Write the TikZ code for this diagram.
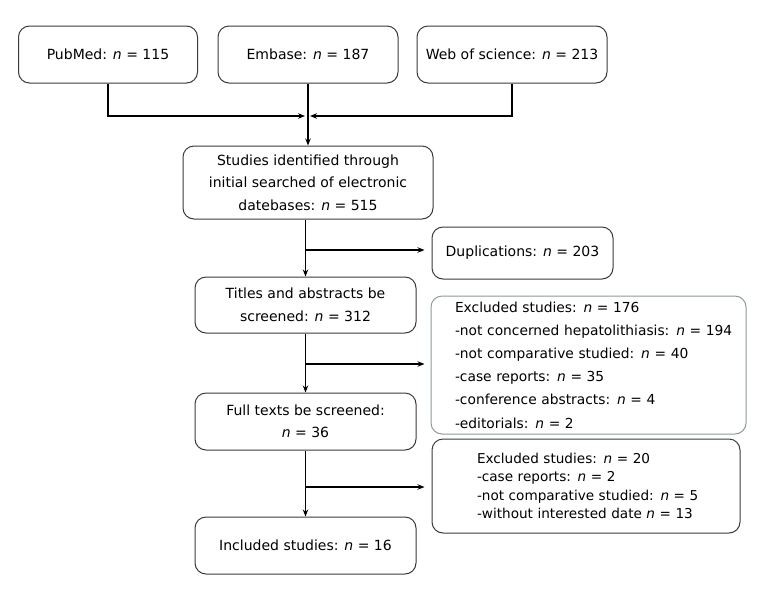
\documentclass[tikz,border=0pt]{standalone}
\usepackage{fontspec}
\setmainfont{DejaVu Sans}
\usetikzlibrary{arrows.meta}
\definecolor{bord}{HTML}{3A3A3A}
\definecolor{bordgray}{HTML}{8C9A9A}
\begin{document}
\begin{tikzpicture}[x=1pt,y=-1pt,
  box/.style={draw=bord, line width=1pt, rounded corners=11pt, align=center,
    inner sep=0pt, font=\fontsize{14}{22.5}\selectfont},
  arr/.style={draw=black, line width=1.1pt, -{Stealth[length=7pt,width=5.5pt]}}]
\useasboundingbox (0,0) rectangle (771,598);
\node[box, minimum width=179pt, minimum height=57pt] (pub) at (108,54.5) {PubMed: \textit{n} = 115};
\node[box, minimum width=180pt, minimum height=57pt] (emb) at (308,54.5) {Embase: \textit{n} = 187};
\node[box, minimum width=190pt, minimum height=57pt] (web) at (512,54.5) {Web of science: \textit{n} = 213};
\node[box, minimum width=250pt, minimum height=73pt] (stud) at (308,182.5) {Studies identified through\\initial searched of electronic\\datebases: \textit{n} = 515};
\node[box, minimum width=181pt, minimum height=52pt] (dup) at (522.5,253) {Duplications: \textit{n} = 203};
\node[box, minimum width=221pt, minimum height=56pt] (tit) at (305.5,305) {Titles and abstracts be\\screened: \textit{n} = 312};
\node[box, draw=bordgray, minimum width=315pt, minimum height=138pt, align=left,
  text width=267pt, inner xsep=24pt, font=\fontsize{13.8}{23.2}\selectfont] (exc1) at (588.5,365)
  {\mbox{Excluded studies: \textit{n} = 176}\\
   \mbox{-not concerned hepatolithiasis: \textit{n} = 194}\\
   \mbox{-not comparative studied: \textit{n} = 40}\\
   \mbox{-case reports: \textit{n} = 35}\\
   \mbox{-conference abstracts: \textit{n} = 4}\\
   \mbox{-editorials: \textit{n} = 2}};
\node[box, minimum width=221pt, minimum height=57pt] (full) at (305.5,421.5) {Full texts be screened:\\\textit{n} = 36};
\node[box, minimum width=308pt, minimum height=94pt, align=left,
  text width=218pt, inner xsep=45pt, font=\fontsize{13.6}{18.4}\selectfont] (exc2) at (586,486)
  {\mbox{Excluded studies: \textit{n} = 20}\\
   \mbox{-case reports: \textit{n} = 2}\\
   \mbox{-not comparative studied: \textit{n} = 5}\\
   \mbox{-without interested date \textit{n} = 13}};
\node[box, minimum width=221pt, minimum height=57pt] (inc) at (305.5,545.5) {Included studies: \textit{n} = 16};
% merge connectors
\coordinate (mL) at (305,116);
\coordinate (mR) at (310,116);
\draw[arr] (pub.south) |- (mL);
\draw[arr] (web.south) |- (mR);
\draw[arr] (emb.south) -- (emb.south |- stud.north);
% spine
\coordinate (b1) at (305.5,250);
\coordinate (b2) at (305.5,364);
\coordinate (b3) at (305.5,487);
\draw[arr] (stud.south -| tit.north) -- (tit.north);
\draw[arr, shorten >=7pt] (b1) -- (dup.west |- b1);
\draw[arr] (tit.south) -- (full.north);
\draw[arr, shorten >=6pt] (b2) -- (exc1.west |- b2);
\draw[arr] (full.south) -- (inc.north);
\draw[arr, shorten >=7pt] (b3) -- (exc2.west |- b3);
\end{tikzpicture}
\end{document}
